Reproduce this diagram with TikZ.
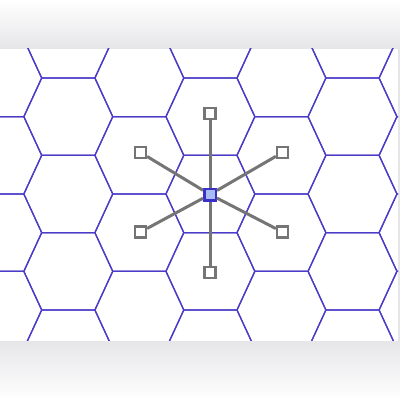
\documentclass[tikz,border=0pt]{standalone}
\definecolor{hexcol}{HTML}{4A3BC8}
\definecolor{nodegray}{HTML}{757575}
\definecolor{hubblue}{HTML}{3A2ECB}
\definecolor{hubfill}{HTML}{A9BCF2}
\definecolor{shadowgray}{HTML}{E6E6E9}
\tikzset{
  hexline/.style={draw=hexcol, line width=1.25pt, line join=miter},
  leaf/.style={draw=nodegray, fill=white, line width=2.3pt, minimum size=11pt, inner sep=0pt, rectangle},
  hub/.style={draw=hubblue, fill=hubfill, line width=2.5pt, minimum size=11.5pt, inner sep=0pt, rectangle},
  spoke/.style={draw=nodegray, line width=3pt}
}
\begin{document}
\begin{tikzpicture}[x=1pt,y=-1pt]
\useasboundingbox (0,0) rectangle (400,400);
\shade[top color=white, bottom color=shadowgray] (0,0) rectangle (400,48.5);
\shade[top color=shadowgray, bottom color=white] (0,340.5) rectangle (400,400);
\fill[shadowgray] (398,48.5) rectangle (400,340.5);
\fill[white] (0,48.5) rectangle (398,340.5);
\begin{scope}
\clip (0,48.5) rectangle (398,340.5);
\foreach \k in {-1,...,6} {
  \pgfmathsetmacro\cx{68.3+71.05*\k}
  \pgfmathsetmacro\off{iseven(\k) ? 0 : 38.67}
  \foreach \m in {-3,...,3} {
    \pgfmathsetmacro\cy{194+\off+77.33*\m}
    \draw[hexline] (\cx-26.6,\cy-38.67) -- (\cx+26.6,\cy-38.67) -- (\cx+44.45,\cy) -- (\cx+26.6,\cy+38.67) -- (\cx-26.6,\cy+38.67) -- (\cx-44.45,\cy) -- cycle;
  }
}
\end{scope}
\node[hub] (c) at (210,194.5) {};
\node[leaf] (t) at (210,113.5) {};
\node[leaf] (b) at (210,272.5) {};
\node[leaf] (ul) at (140.5,152.5) {};
\node[leaf] (ur) at (282.5,152.5) {};
\node[leaf] (ll) at (140.5,232) {};
\node[leaf] (lr) at (282.5,232) {};
\foreach \n in {t,b,ul,ur,ll,lr} {
  \draw[spoke] (c) -- (\n);
}
\end{tikzpicture}
\end{document}
